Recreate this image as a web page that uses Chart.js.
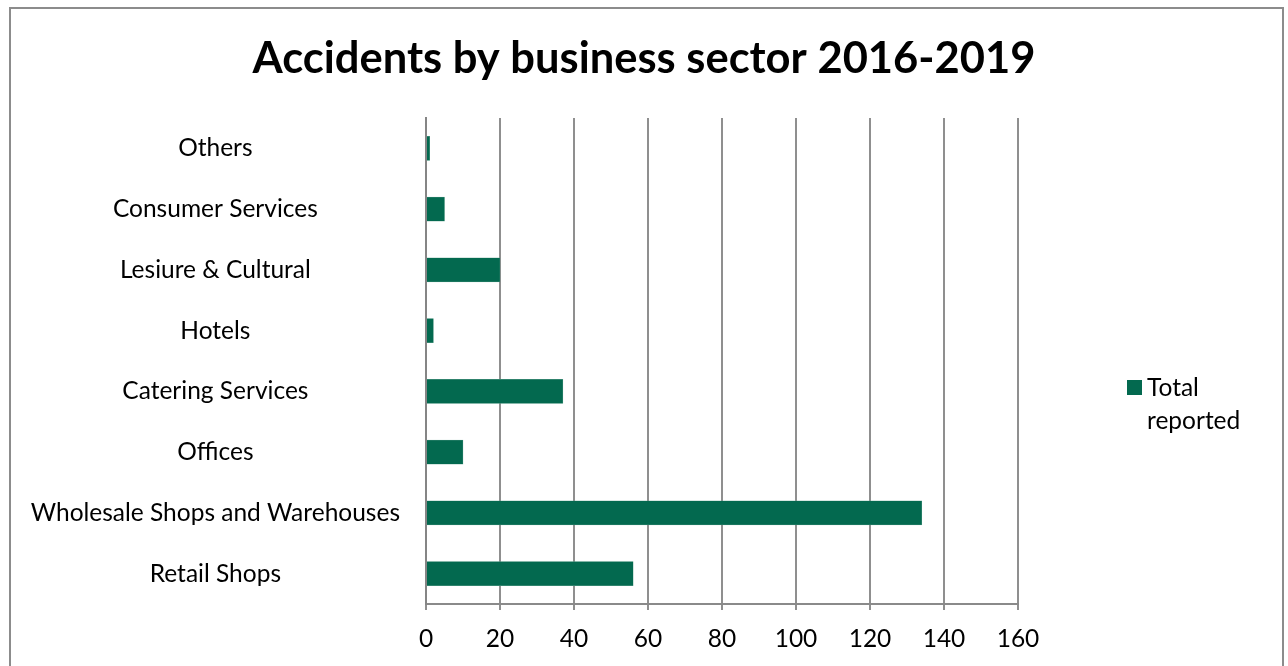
<!DOCTYPE html>
<html>
<head>
<meta charset="utf-8">
<title>Accidents by business sector 2016-2019</title>
<script src="https://cdn.jsdelivr.net/npm/chart.js@4.4.1/dist/chart.umd.min.js"></script>
<style>
  html, body { margin: 0; padding: 0; background: #fff; overflow: hidden; }
  #wrap { position: relative; width: 1288px; height: 666px; }
  #frame {
    position: absolute; left: 9px; top: 7px; width: 1275px; height: 700px;
    border: 2px solid #8c8c8c; box-sizing: border-box; pointer-events: none;
  }
  canvas { position: absolute; left: 0; top: 0; }
</style>
</head>
<body>
<div id="wrap">
  <canvas id="sectorChart" width="1288" height="666"></canvas>
  <div id="frame"></div>
</div>
<script>
// sectors, listed top to bottom as they appear on the axis
const sectors = [
  'Others',
  'Consumer Services',
  'Lesiure & Cultural',
  'Hotels',
  'Catering Services',
  'Offices',
  'Wholesale Shops and Warehouses',
  'Retail Shops'
];
const totalReported = [1, 5, 20, 2, 37, 10, 134, 56];
const xTicks = [0, 20, 40, 60, 80, 100, 120, 140, 160];

const chartTitle = 'Accidents by business sector 2016-2019';
const seriesName = 'Total reported';
const barColor = '#03694f';
const FONT = 'Lato, Carlito, Calibri, sans-serif';
const TXT = 24.5;

// title centred on the whole canvas, legend on the right with the
// label wrapped onto two lines
const decorations = {
    id: 'decorations',
    afterDraw(chart) {
        const ctx = chart.ctx;
        const ds = chart.data.datasets[0];
        ctx.save();
        ctx.fillStyle = '#000';
        ctx.font = 'bold 43.5px ' + FONT;
        ctx.textAlign = 'center';
        ctx.textBaseline = 'middle';
        ctx.fillText(chartTitle, chart.width / 2, 59);

        ctx.fillStyle = ds.backgroundColor;
        ctx.fillRect(1127, 380, 15, 15);
        ctx.fillStyle = '#000';
        ctx.font = TXT + 'px ' + FONT;
        ctx.textAlign = 'left';
        ds.label.split(' ').forEach((w, i) => ctx.fillText(w, 1147, 388 + i * 33));
        ctx.restore();
    }
};

new Chart(document.getElementById('sectorChart'), {
    type: 'bar',
    data: {
        labels: sectors,
        datasets: [{
            label: seriesName,
            data: totalReported,
            backgroundColor: barColor,
            borderColor: '#5f9f8c',
            borderWidth: 0.5,
            barThickness: 24
        }]
    },
    options: {
        indexAxis: 'y',
        responsive: false,
        animation: false,
        layout: { padding: { left: 0, right: 270, top: 118, bottom: 0 } },
        plugins: {
            legend: { display: false },
            tooltip: { enabled: false },
            title: { display: false }
        },
        scales: {
            x: {
                min: 0,
                max: 160,
                afterBuildTicks(scale) {
                    scale.ticks = xTicks.map(v => ({ value: v }));
                },
                afterFit(scale) { scale.height = 62; },
                grid: {
                    color: '#8f8f8f',
                    lineWidth: 2,
                    tickLength: 6
                },
                border: { display: true, color: '#8a8a8a', width: 2 },
                ticks: {
                    color: '#000',
                    padding: 14,
                    font: { family: FONT, size: TXT }
                }
            },
            y: {
                afterFit(scale) { scale.width = 426; },
                grid: { display: false },
                border: { display: true, color: '#858585', width: 2 },
                ticks: {
                    color: '#000',
                    crossAlign: 'center',
                    padding: 18,
                    font: { family: FONT, size: TXT }
                }
            }
        }
    },
    plugins: [decorations]
});
</script>
</body>
</html>
